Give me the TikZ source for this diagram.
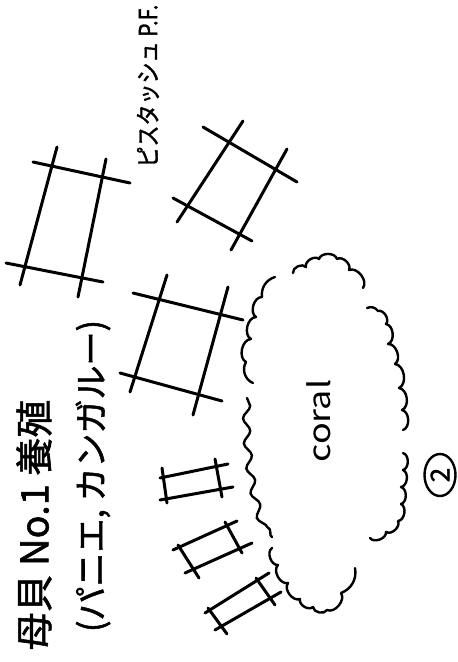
\documentclass[tikz,border=0pt]{standalone}
\usepackage{fontspec}
\setmainfont{Noto Sans CJK JP}[AutoFakeBold=1.5]
\usetikzlibrary{decorations.pathmorphing,shapes.geometric}
\tikzset{
  raft/.style={line width=3pt, line cap=round},
  cloud/.style={line width=2.4pt, line cap=round, line join=round},
  cloudwave/.style={line width=2.4pt, line cap=round, decorate,
    decoration={snake, segment length=25pt, amplitude=3.5pt}},
  bl/.style={bend left=75},
  br/.style={bend right=75},
  vlabel/.style={rotate=90, inner sep=0pt},
}
\begin{document}
\begin{tikzpicture}[x=1pt,y=-1pt]
\useasboundingbox (0,0) rectangle (458,662);
% large raft A
\draw[raft] (33,162) -- (130,183);
\draw[raft] (6,263) -- (103,282);
\draw[raft] (57,147) -- (20,285);
\draw[raft] (106,159) -- (78,297);
% large raft B
\draw[raft] (203,127) -- (297,182);
\draw[raft] (173,198) -- (252,241);
\draw[raft] (243,121) -- (177,222);
\draw[raft] (287,149) -- (231,250);
% large raft C
\draw[raft] (133,293) -- (243,320);
\draw[raft] (120,373) -- (222,401);
\draw[raft] (167,275) -- (130,392);
\draw[raft] (228,287) -- (193,415);
% small raft 1
\draw[raft] (160,478) -- (228,464);
\draw[raft] (160,500) -- (233,487);
\draw[raft] (162,468) -- (167,503);
\draw[raft] (215,459) -- (222,497);
% small raft 2
\draw[raft] (173,550) -- (237,521);
\draw[raft] (185,573) -- (252,543);
\draw[raft] (178,545) -- (199,578);
\draw[raft] (225,522) -- (242,553);
% small raft 3
\draw[raft] (205,613) -- (269,573);
\draw[raft] (215,630) -- (281,592);
\draw[raft] (208,608) -- (227,634);
\draw[raft] (256,578) -- (275,605);
% coral cloud (broken scalloped outline)
\draw[cloud] (293,273) to[bl] (306,267) to[bl] (319,259) to[bl] (337,259)
  to[bl] (349,270) to[bl] (363,288);
\draw[cloud] (253,383) to[bend left=50] (246,362) to[bl] (251,339) to[bl] (256,317)
  to[bl] (262,297) to[bend left=40] (275,277);
\draw[cloudwave] (247,398) .. controls (245,450) and (255,510) .. (272,537);
\draw[cloud] (272,548) to[br] (278,565) to[br] (288,583) to[br] (300,599)
  to[br] (313,607) to[br] (327,610) to[br] (341,593) to[bend right=40] (355,568);
\draw[cloud] (370,538) to[br] (386,532) to[br] (398,521) to[br] (401,504)
  to[br] (401,487) to[br] (403,470) to[br] (403,453);
\draw[cloud] (403,430) to[br] (402,410) to[br] (399,388) to[br] (395,364)
  to[br] (388,344) to[br] (386,324) to[br] (378,311) to[bend right=40] (367,308);
\node[vlabel, font=\fontsize{30}{30}\selectfont] (coral) at (319,421) {\scalebox{1.2}[1]{coral}};
% texts
\node[vlabel, font=\fontsize{38}{40}\selectfont\bfseries] (title) at (34,525) {母貝 No.1 養殖};
\node[vlabel, font=\fontsize{34}{36}\selectfont\bfseries] (sub) at (93,476) {(パニエ, カンガルー)};
\node[vlabel, font=\fontsize{25}{26}\selectfont\bfseries] (pf) at (148,86) {\scalebox{0.84}[1]{ピスタッシュ P.F.}};
\node[draw, ellipse, line width=2.4pt, minimum width=31pt, minimum height=42pt, inner sep=0pt] (ring) at (440,475) {};
\node[vlabel, font=\fontsize{26}{26}\selectfont\bfseries] (two) at (ring.center) {2};
\end{tikzpicture}
\end{document}
